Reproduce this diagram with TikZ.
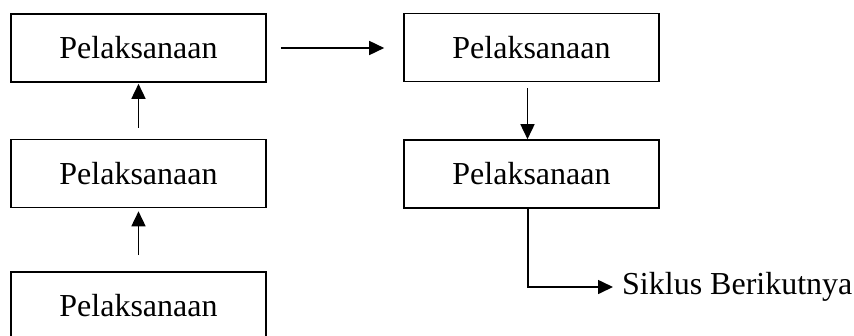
\documentclass[tikz,border=0pt]{standalone}
\usepackage{fontspec}
\setmainfont{Liberation Serif}
\usetikzlibrary{arrows.meta}
\begin{document}
\begin{tikzpicture}[x=1pt,y=-1pt,
  box/.style={draw, line width=1.6pt, minimum width=255pt, minimum height=68pt, inner sep=0pt, font=\fontsize{32}{38}\selectfont},
  arr/.style={line width=1.6pt, -{Triangle[length=15pt,width=14pt]}},
  lbl/.style={inner sep=0pt, font=\fontsize{32}{38}\selectfont}]
\useasboundingbox (0,0) rectangle (854,335);
\node[box] (b1) at (138.5,48) {Pelaksanaan};
\node[box] (b2) at (138.5,173.5) {Pelaksanaan};
\node[box] (b3) at (138.5,306) {Pelaksanaan};
\node[box] (b4) at (531.5,47.5) {Pelaksanaan};
\node[box] (b5) at (531.5,174) {Pelaksanaan};
\node[lbl, anchor=west] (sik) at (622,287) {Siklus Berikutnya};
\draw[arr, shorten <=16pt, shorten >=3pt] (b3.north) -- (b2.south);
\draw[arr, shorten <=11pt, shorten >=1pt] (b2.north) -- (b1.south);
\draw[arr, shorten <=14pt, shorten >=19pt] (b1.east) -- (b1.east -| b4.west);
\draw[arr, shorten <=6pt] ([xshift=-4pt]b4.south) -- ([xshift=-4pt]b5.north);
\draw[arr, shorten >=9pt] ([xshift=-3.5pt]b5.south) |- (sik.west);
\end{tikzpicture}
\end{document}
